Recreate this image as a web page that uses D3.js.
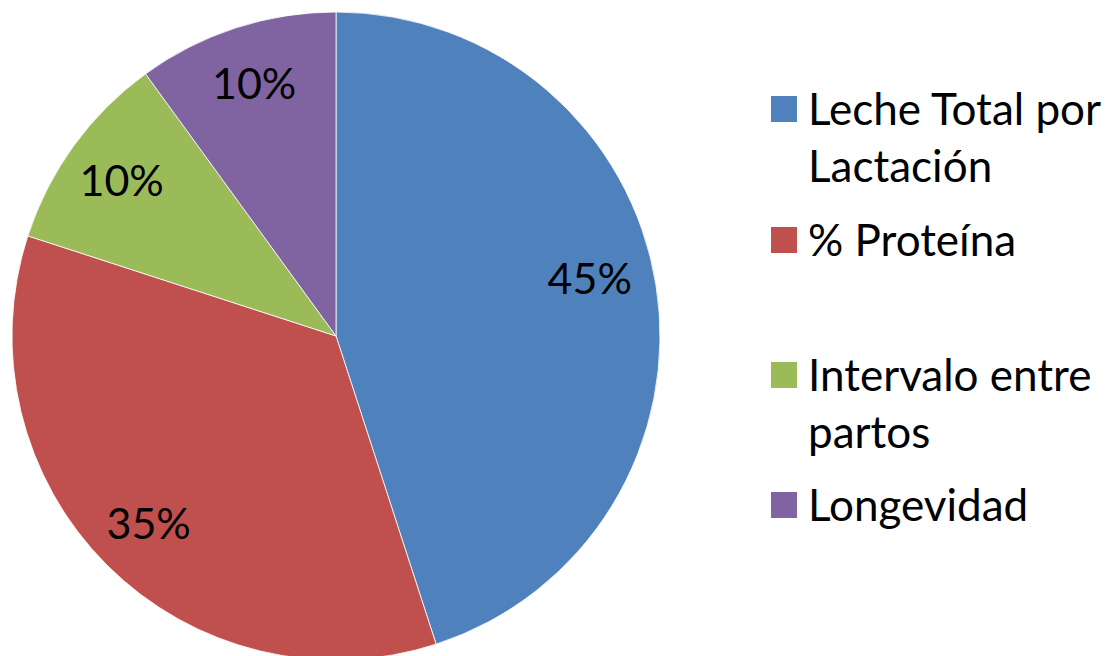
<!DOCTYPE html>
<html>
<head>
<meta charset="utf-8">
<script src="https://cdn.jsdelivr.net/npm/d3@7"></script>
<style>
  html, body { margin: 0; padding: 0; background: #fff; }
  svg { display: block; }
  text { font-family: Lato, "Open Sans", sans-serif; fill: #000; }
</style>
</head>
<body>
<svg id="chart" width="1111" height="656"></svg>
<script>
const categories = ["Leche Total por Lactación", "% Proteína", "Intervalo entre partos", "Longevidad"];
const values = [45, 35, 10, 10];
const valueLabels = ["45%", "35%", "10%", "10%"];
const legendLines = [["Leche Total por", "Lactación"], ["% Proteína"], ["Intervalo entre", "partos"], ["Longevidad"]];
const colors = ["#4F81BD", "#C0504D", "#9BBB59", "#8064A2"];

const svg = d3.select("#chart");
const cx = 336, cy = 336, R = 324, labelR = 265;

const data = categories.map((c, i) => ({ cat: c, value: values[i], label: valueLabels[i], color: colors[i] }));

const pie = d3.pie().value(d => d.value).sort(null);
const arcs = pie(data);
const arc = d3.arc().innerRadius(0).outerRadius(R);
const labelArc = d3.arc().innerRadius(labelR).outerRadius(labelR);

const g = svg.append("g").attr("transform", `translate(${cx},${cy})`);
g.selectAll("path.slice").data(arcs).join("path")
  .attr("class", "slice")
  .attr("d", arc)
  .attr("fill", d => d.data.color)
  .attr("stroke", "#fff")
  .attr("stroke-width", 0.8);

g.selectAll("text.lbl").data(arcs).join("text")
  .attr("class", "lbl")
  .attr("transform", d => {
    const [x, y] = labelArc.centroid(d);
    // bias large-slice label slightly upward, as the reference's best-fit placement does
    const shift = d.data.value > 40 ? -16 : 0;
    return `translate(${x - (shift ? 8 : 0)},${y + shift})`;
  })
  .attr("text-anchor", "middle")
  .attr("dy", "0.36em")
  .style("font-size", "43px")
  .text(d => d.data.label);

// Legend
const legendY = [109, 240, 375, 505];
const lg = svg.append("g");
data.forEach((d, i) => {
  const row = lg.append("g").attr("transform", `translate(771,${legendY[i]})`);
  row.append("rect").attr("x", 0).attr("y", -13).attr("width", 26).attr("height", 26).attr("fill", d.color);
  legendLines[i].forEach((line, j) => {
    row.append("text")
      .attr("x", 37)
      .attr("y", j * 57)
      .attr("dy", "0.36em")
      .style("font-size", "44px")
      .text(line);
  });
});
</script>
</body>
</html>
